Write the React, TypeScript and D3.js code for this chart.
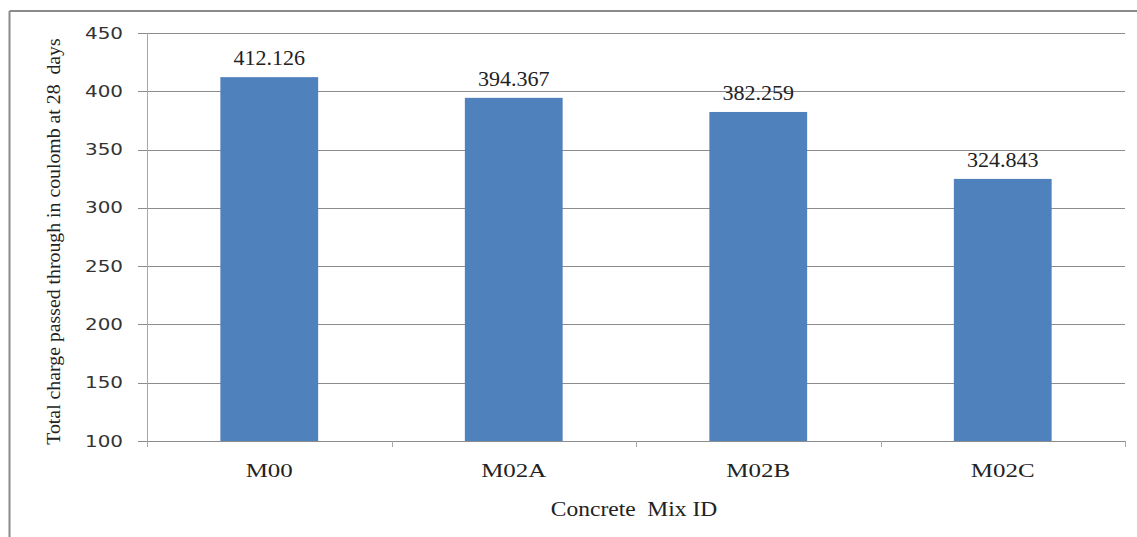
import * as d3 from "d3";

const categories = ["M00", "M02A", "M02B", "M02C"];
const values = [412.126, 394.367, 382.259, 324.843];
const labels = ["412.126", "394.367", "382.259", "324.843"];
const yTicks = [100, 150, 200, 250, 300, 350, 400, 450];

const W = 1137;
const H = 537;
const serif = { fontFamily: "Liberation Serif" };
const sans = { fontFamily: "DejaVu Sans" };

export default function App() {
  const left = 147,
    right = 1125,
    top = 33,
    bottom = 441;

  const x = d3
    .scaleBand<string>()
    .domain(categories)
    .range([left, right])
    .paddingInner(0.6)
    .paddingOuter(0.3);
  const y = d3.scaleLinear().domain([100, 450]).range([bottom, top]);

  const step = x.step();
  // tick marks between categories on the x axis
  const xTickPos = d3.range(categories.length + 1).map((i) => left + i * step);
  const mid = (c: string) => (x(c) as number) + x.bandwidth() / 2;

  return (
    <svg
      width={W}
      height={H}
      style={{ position: "absolute", left: 0, top: 0, background: "#fff" }}
    >
      {/* outer frame */}
      <line x1={9.5} y1={11} x2={W} y2={11} stroke="#8a8a8a" strokeWidth={2} />
      <line x1={9.5} y1={11} x2={9.5} y2={H} stroke="#8a8a8a" strokeWidth={2} />

      {/* gridlines + y ticks */}
      {yTicks.map((t) => (
        <g key={t}>
          <line
            x1={138}
            x2={right}
            y1={Math.round(y(t)) + 0.5}
            y2={Math.round(y(t)) + 0.5}
            stroke="#8c8c8c"
            strokeWidth={1}
          />
          <text
            transform={`translate(123,${y(t) + 5.5}) scale(1.33,1)`}
            textAnchor="end"
            style={sans}
            fontSize={15}
            fill="#333"
          >
            {t}
          </text>
        </g>
      ))}

      {/* y axis */}
      <line x1={left + 0.5} x2={left + 0.5} y1={top} y2={bottom + 6} stroke="#a6a6a6" />
      {xTickPos.map((p, i) => (
        <line
          key={i}
          x1={Math.round(p) + 0.5}
          x2={Math.round(p) + 0.5}
          y1={bottom}
          y2={bottom + 6}
          stroke="#a6a6a6"
        />
      ))}

      {/* bars */}
      {categories.map((c, i) => (
        <rect
          key={c}
          x={x(c)}
          y={y(values[i])}
          width={x.bandwidth()}
          height={bottom - y(values[i])}
          fill="#4F81BD"
        />
      ))}

      {/* data labels */}
      {categories.map((c, i) => (
        <text
          key={c}
          transform={`translate(${mid(c)},${y(values[i]) - 12}) scale(1.05,1)`}
          textAnchor="middle"
          style={serif}
          fontSize={21}
          fill="#222"
        >
          {labels[i]}
        </text>
      ))}

      {/* category labels */}
      {categories.map((c) => (
        <text
          key={c}
          transform={`translate(${mid(c)},477) scale(1.35,1)`}
          textAnchor="middle"
          style={serif}
          fontSize={18.5}
          fill="#222"
        >
          {c}
        </text>
      ))}

      {/* axis titles */}
      <text
        transform="translate(634,516) scale(1.12,1)"
        textAnchor="middle"
        style={serif}
        fontSize={21}
        fill="#222"
      >
        Concrete&#160; Mix ID
      </text>
      <text
        transform={`translate(60,241.5) rotate(-90)`}
        textAnchor="middle"
        style={serif}
        fontSize={19.8}
        fill="#222"
      >
        Total charge passed through in coulomb at 28&#160; days
      </text>
    </svg>
  );
}
